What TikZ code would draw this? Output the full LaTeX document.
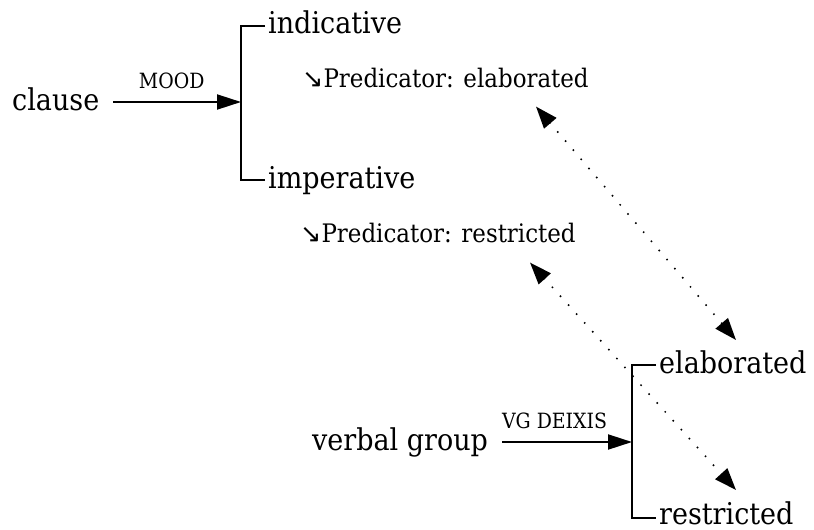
\documentclass[tikz,border=0pt]{standalone}
\usepackage{fontspec}
\setmainfont{DejaVu Serif Condensed}
\newfontfamily\arrowfont{DejaVu Sans}
\usetikzlibrary{arrows.meta,positioning}
\begin{document}
\begin{tikzpicture}[x=1pt, y=-1pt,
  every node/.style = {inner sep=3pt, anchor=base west},
  term/.style = {font=\fontsize{30}{35}\selectfont},
  realize/.style = {font=\fontsize{25.5}{30}\selectfont},
  sysname/.style = {font=\fontsize{21}{25}\selectfont, anchor=base, above=9pt},
  entry/.style = {-{Triangle[length=24pt,width=15pt]}, line width=2pt, shorten <=11pt},
  bracket/.style = {line width=2pt},
  link/.style = {{Triangle[length=22pt,width=16pt]}-{Triangle[length=22pt,width=16pt]},
    line width=2.2pt, line cap=round, dash pattern=on 0pt off 12pt}]
  \useasboundingbox (0,0) rectangle (814,530);
  % MOOD system
  \node[term] (clause) at (9,110) {clause};
  \node[term] (indicative) at (265,34) {indicative};
  \node[term] (imperative) at (265,188) {imperative};
  \coordinate (indw) at ([yshift=8pt]indicative.base west);
  \coordinate (impw) at ([yshift=8pt]imperative.base west);
  \coordinate (clausee) at ([yshift=8pt]clause.base east);
  \coordinate (moodtop) at ([xshift=-24pt]indw);
  \coordinate (mood) at (moodtop |- clausee);
  \node[realize] (predelab) at (299,87) {{\arrowfont ↘}Predicator: elaborated};
  \node[realize] (predrest) at (297,242) {{\arrowfont ↘}Predicator: restricted};
  \draw[entry] (clausee) -- (mood) node[midway, sysname] {MOOD};
  \draw[bracket] (indw) -| (mood) |- (impw);
  % VG DEIXIS system
  \node[term] (verbal) at (309,450) {verbal group};
  \node[term] (elaborated) at (656,373) {elaborated};
  \node[term] (restricted) at (656,524) {restricted};
  \coordinate (elabw) at ([yshift=8pt]elaborated.base west);
  \coordinate (restw) at ([yshift=6pt]restricted.base west);
  \coordinate (verbale) at ([yshift=8pt]verbal.base east);
  \coordinate (deixistop) at ([xshift=-24pt]elabw);
  \coordinate (deixis) at (deixistop |- verbale);
  \draw[entry] (verbale) -- (deixis) node[pos=0.45, sysname] {VG DEIXIS};
  \draw[bracket] (elabw) -| (deixis) |- (restw);
  % realization links
  \draw[link] ([shift={(237,16)}]predelab.south west) -- ([shift={(80,-7)}]elaborated.north west);
  \draw[link] ([shift={(233,17)}]predrest.south west) -- ([shift={(80,-8)}]restricted.north west);
\end{tikzpicture}
\end{document}
